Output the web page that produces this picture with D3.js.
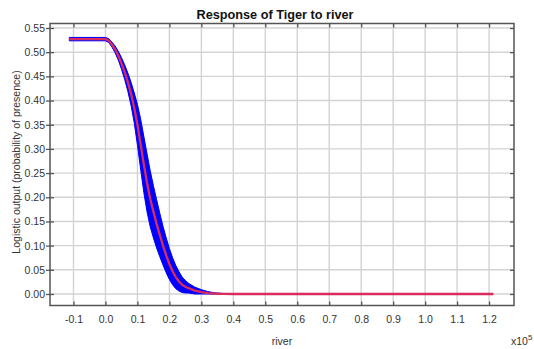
<!DOCTYPE html>
<html>
<head>
<meta charset="utf-8">
<script src="https://cdn.jsdelivr.net/npm/d3@7"></script>
<style>
  html, body { margin: 0; padding: 0; background: #fff; }
  svg { display: block; font-family: "Liberation Sans", Arial, sans-serif; }
</style>
</head>
<body>
<svg id="chart" width="534" height="349"></svg>
<script>
// River distance (raw units) at which the response was sampled
const river = [-11300, 0, 1000, 2000, 3000, 4000, 5000, 6000, 7000, 8000, 9000,
  10000, 11000, 12000, 13000, 14000, 15000, 16000, 17000, 18000, 19000, 20000,
  21000, 22000, 23000, 24000, 25000, 26000, 28000, 30000, 32000, 34000, 37000,
  40000, 121300];
// Mean logistic output across replicate runs
const meanOutput = [0.527, 0.527, 0.524, 0.516, 0.506, 0.493, 0.477, 0.459, 0.438,
  0.414, 0.385, 0.350, 0.310, 0.268, 0.230, 0.197, 0.170, 0.145, 0.122, 0.100,
  0.080, 0.062, 0.047, 0.035, 0.026, 0.019, 0.015, 0.012, 0.007, 0.004, 0.002,
  0.001, 0.0003, 0, 0];
// Standard deviation across replicate runs
const sdOutput = [0.0035, 0.0035, 0.004, 0.005, 0.007, 0.009, 0.012, 0.015, 0.019,
  0.024, 0.031, 0.042, 0.052, 0.058, 0.060, 0.058, 0.054, 0.050, 0.045, 0.040,
  0.036, 0.032, 0.028, 0.024, 0.020, 0.016, 0.013, 0.010, 0.007, 0.005, 0.003,
  0.0015, 0.0004, 0, 0];
const xTicks = d3.range(-10000, 120001, 10000);
const yTicks = d3.range(0, 0.5501, 0.05);

const svg = d3.select("#chart");
const plotL = 50, plotR = 514, plotT = 23.5, plotB = 305.5;

const x = d3.scaleLinear().domain([-17350, 127800]).range([plotL, plotR]);
const y = d3.scaleLinear().domain([-0.0238, 0.5593]).range([plotB, plotT]);

const rows = river.map((r, i) => ({
  r, m: meanOutput[i],
  hi: meanOutput[i] + sdOutput[i],
  lo: Math.max(0, meanOutput[i] - sdOutput[i])
}));

// grid
const grid = svg.append("g").attr("stroke", "#d3d3d3").attr("stroke-width", 1.4);
grid.selectAll("line.v").data(xTicks).join("line").attr("class", "v")
  .attr("x1", d => x(d)).attr("x2", d => x(d))
  .attr("y1", plotT).attr("y2", plotB);
grid.selectAll("line.h").data(yTicks).join("line").attr("class", "h")
  .attr("x1", plotL).attr("x2", plotR)
  .attr("y1", d => y(d)).attr("y2", d => y(d));

// axes
const fmtX = d => (d / 1e5).toFixed(1);
const fmtY = d => d.toFixed(2);
const axB = svg.append("g").attr("transform", `translate(0,${plotB})`)
  .call(d3.axisBottom(x).tickValues(xTicks).tickFormat(fmtX).tickSize(-4).tickPadding(10));
const axT = svg.append("g").attr("transform", `translate(0,${plotT})`)
  .call(d3.axisTop(x).tickValues(xTicks).tickFormat("").tickSize(-4));
const axL = svg.append("g").attr("transform", `translate(${plotL},0)`)
  .call(d3.axisLeft(y).tickValues(yTicks).tickFormat(fmtY).tickSize(4).tickPadding(1));
const axR = svg.append("g").attr("transform", `translate(${plotR},0)`)
  .call(d3.axisRight(y).tickValues(yTicks).tickFormat("").tickSize(-4));
[axB, axT, axL, axR].forEach(a => {
  a.select(".domain").remove();
  a.selectAll(".tick line").attr("stroke", "#555").attr("stroke-width", 1.3);
  a.selectAll(".tick text").attr("fill", "#333").attr("font-size", "10.5px")
    .attr("font-family", "'Liberation Sans', Arial, sans-serif");
});
axL.selectAll(".tick line").attr("x2", 4).attr("x1", -4);

// band of mean ± sd
svg.append("path").datum(rows)
  .attr("fill", "#0000ff").attr("stroke", "#0000ff").attr("stroke-width", 1)
  .attr("stroke-linejoin", "round")
  .attr("d", d3.area().x(d => x(d.r)).y0(d => y(d.lo)).y1(d => y(d.hi)));

// mean line
svg.append("path").datum(rows)
  .attr("fill", "none").attr("stroke", "#d92b5e").attr("stroke-width", 2.3)
  .attr("d", d3.line().x(d => x(d.r)).y(d => y(d.m)));

// frame
svg.append("rect").attr("x", plotL).attr("y", plotT)
  .attr("width", plotR - plotL).attr("height", plotB - plotT)
  .attr("fill", "none").attr("stroke", "#555").attr("stroke-width", 1.5);

// title and labels
svg.append("text").attr("x", 275).attr("y", 18.5).attr("text-anchor", "middle")
  .attr("font-weight", "bold").attr("font-size", "12.7px").attr("fill", "#111")
  .text("Response of Tiger to river");
svg.append("text").attr("x", 282).attr("y", 345).attr("text-anchor", "middle")
  .attr("font-size", "10.5px").attr("fill", "#333").text("river");
svg.append("text")
  .attr("transform", "translate(19.5,162) rotate(-90)").attr("text-anchor", "middle")
  .attr("font-size", "10.5px").attr("fill", "#333")
  .text("Logistic output (probability of presence)");
const exp = svg.append("text").attr("x", 511).attr("y", 345)
  .attr("font-size", "10.5px").attr("fill", "#333");
exp.append("tspan").text("x10");
exp.append("tspan").attr("dy", -5).attr("font-size", "8px").text("5");
</script>
</body>
</html>
